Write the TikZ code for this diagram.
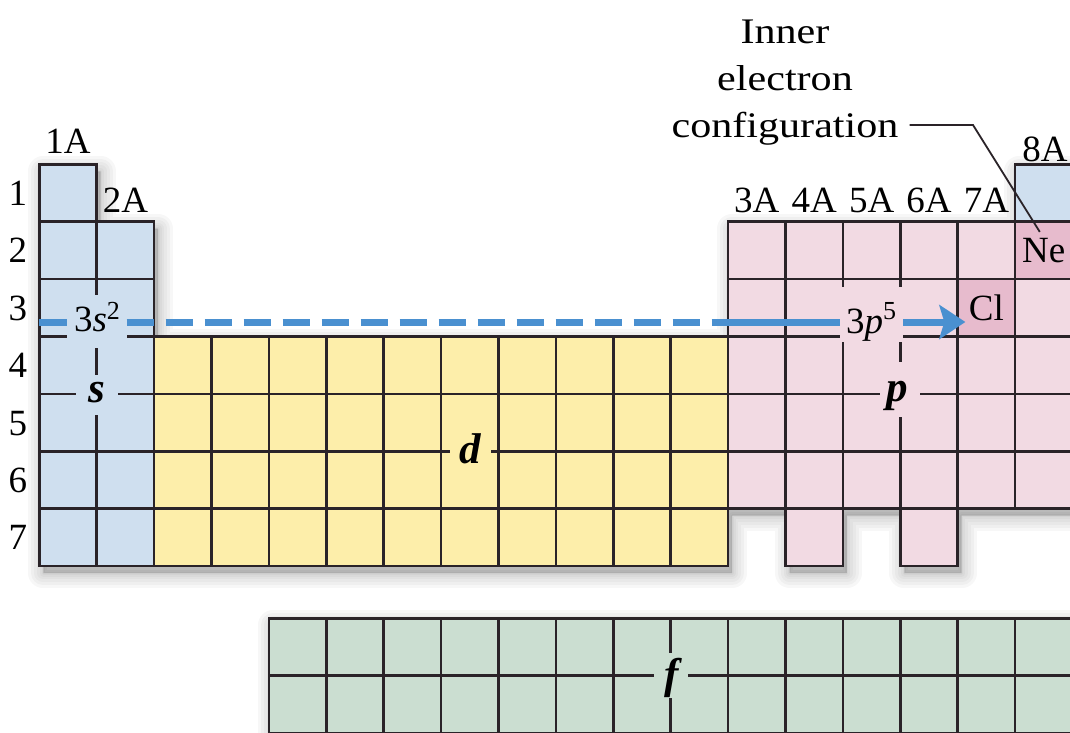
\documentclass[tikz,border=0pt]{standalone}
\usepackage{fontspec}
\setmainfont{Liberation Serif}
\newfontfamily\widefont{Liberation Serif}[FakeStretch=1.17]
\usetikzlibrary{arrows.meta,calc}
\definecolor{sblue}{RGB}{207,223,239}
\definecolor{dyel}{RGB}{253,238,170}
\definecolor{ppink}{RGB}{242,218,227}
\definecolor{pdark}{RGB}{231,187,205}
\definecolor{fgreen}{RGB}{203,222,209}
\definecolor{gridc}{RGB}{42,35,40}
\definecolor{arrowblue}{RGB}{74,144,208}
\begin{document}
\begin{tikzpicture}[x=1pt,y=-1pt,
  gridline/.style={draw=gridc,line width=2.7pt},
  cellnode/.style={gridline,minimum width=57.4pt,minimum height=57.4pt,inner sep=0pt,font=\fontsize{37}{42}\selectfont},
  knock/.style={inner sep=0pt,outer sep=0pt},
  lbl/.style={font=\fontsize{37}{42}\selectfont,anchor=base,inner sep=0pt},
  ann/.style={font=\widefont\fontsize{36}{42}\selectfont,anchor=base,inner sep=0pt},
  blk/.style={font=\fontsize{43}{48}\selectfont\bfseries\itshape,anchor=base,inner sep=0pt},
  bl/.style={draw=arrowblue,line width=7pt},
  leader/.style={draw=gridc,line width=1.8pt},
  shadowpath/.style={black,opacity=0.03,line join=round}
]
\useasboundingbox (0,0) rectangle (1070,732);
\clip (0,0) rectangle (1070,732);
\def\mainoutline{(39.3,164.3) -- (96.7,164.3) -- (96.7,221.7) -- (154.1,221.7) -- (154.1,336.5) -- (728.1,336.5) -- (728.1,221.7) -- (1015.1,221.7) -- (1015.1,164.3) -- (1072.5,164.3) -- (1072.5,508.7) -- (957.7,508.7) -- (957.7,566.1) -- (900.3,566.1) -- (900.3,508.7) -- (842.9,508.7) -- (842.9,566.1) -- (785.5,566.1) -- (785.5,508.7) -- (728.1,508.7) -- (728.1,566.1) -- (39.3,566.1) -- cycle}
\def\foutline{(268.9,618.3) -- (1072.5,618.3) -- (1072.5,733.1) -- (268.9,733.1) -- cycle}
% shadows
\begin{scope}[shift={(4,7)}]
  \foreach \w in {30,24,18,12,7,3} {
    \filldraw[shadowpath,line width=\w pt] \mainoutline;
    \filldraw[shadowpath,line width=\w pt] \foutline;
  }
\end{scope}
\newcommand\pcell[3]{\draw[gridline,fill=#3] ({39.3+(#1-1)*57.4},{164.3+(#2-1)*57.4}) rectangle ++(57.4,57.4);}
\newcommand\fcell[2]{\draw[gridline,fill=fgreen] ({39.3+(#1-1)*57.4},{618.3+(#2-1)*57.4}) rectangle ++(57.4,57.4);}
% s block
\foreach \r in {1,...,7} {\pcell{1}{\r}{sblue}}
\foreach \r in {2,...,7} {\pcell{2}{\r}{sblue}}
\pcell{18}{1}{sblue}
% d block
\foreach \c in {3,...,12} {\foreach \r in {4,...,7} {\pcell{\c}{\r}{dyel}}}
% p block
\foreach \c in {13,...,18} {\foreach \r in {2,...,6} {\pcell{\c}{\r}{ppink}}}
\pcell{14}{7}{ppink}
\pcell{16}{7}{ppink}
% f block
\foreach \c in {5,...,18} {\foreach \r in {1,2} {\fcell{\c}{\r}}}
% highlighted cells
\node[cellnode,fill=pdark] (Ne) at (1043.8,250.4) {Ne};
\node[cellnode,fill=pdark] (Cl) at (986.4,307.8) {Cl};
% knockouts
\node[knock,fill=sblue,minimum width=60pt,minimum height=53pt] (k3s) at (96.7,321.5) {};
\node[knock,fill=sblue,minimum width=42pt,minimum height=40pt] (ks) at (96.7,395) {};
\node[knock,fill=dyel,minimum width=41pt,minimum height=40pt] (kd) at (470,451.3) {};
\node[knock,fill=ppink,minimum width=63pt,minimum height=55pt] (k3p) at (871.5,314.5) {};
\node[knock,fill=ppink,minimum width=40pt,minimum height=55pt] (kp) at (900.3,389.5) {};
\node[knock,fill=fgreen,minimum width=34pt,minimum height=45pt] (kf) at (670.7,675.7) {};
% blue line
\coordinate (sL) at (39.3,322);
\coordinate (pL) at (728.1,322);
\draw[bl] (sL) -- (k3s.west |- sL);
\draw[bl,dash pattern=on 27pt off 12pt] (k3s.east |- sL) -- (pL);
\draw[bl] (pL) -- (k3p.west |- pL);
\draw[bl,-{Stealth[length=26pt,width=34pt,inset=5pt]}] (k3p.east |- pL) -- ($(Cl.west |- pL)+(9,0)$);
% block labels
\node[lbl] (t3s) at (97,331) {3\textit{s}\raisebox{12pt}{\fontsize{26}{26}\selectfont 2}};
\node[lbl] (t3p) at (871,333) {3\textit{p}\raisebox{14pt}{\fontsize{26}{26}\selectfont 5}};
\node[blk] (ls) at (96.7,402) {s};
\node[blk] (ld) at (470,463) {d};
\node[blk] (lp) at (897,401) {p};
\node[blk] (lf) at (672,688) {f};
% row numbers
\foreach \r in {1,...,7} {\node[lbl] (row\r) at (18,{164.3+(\r-0.5)*57.4+12.5}) {\r};}
% group labels
\node[lbl] (g1) at (68,153) {1A};
\node[lbl] (g2) at (125.4,212) {2A};
\foreach \g [count=\i from 13] in {3,...,7} {\node[lbl] (g\g) at ({39.3+(\i-0.5)*57.4},212) {\g A};}
\node[lbl] (g8) at (1045,161) {8A};
% annotation
\node[ann] (ann1) at (785,43) {Inner};
\node[ann] (ann2) at (785,90) {electron};
\node[ann] (ann3) at (785,137) {configuration};
\coordinate (bend) at (973,125);
\draw[leader] ($(ann3.base east)+(11,-12)$) -- (bend) -- ($(Ne.center)+(-4,-18.5)$);
\end{tikzpicture}
\end{document}
